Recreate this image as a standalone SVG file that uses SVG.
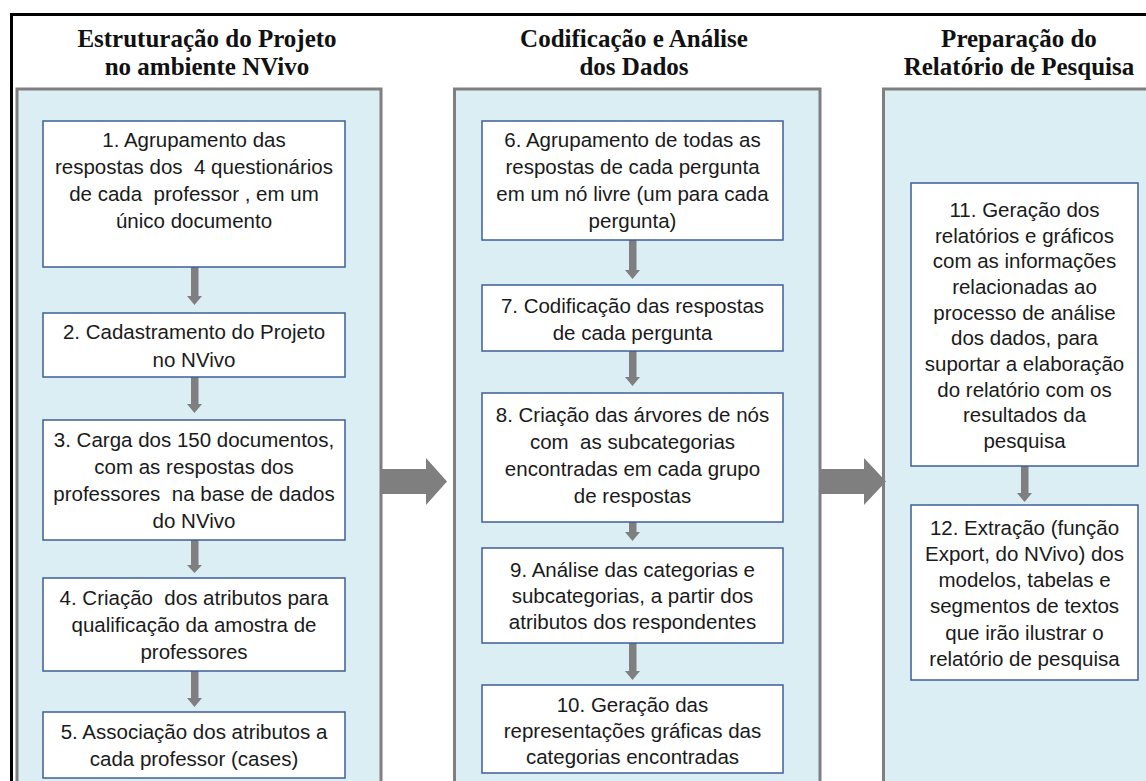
<svg xmlns="http://www.w3.org/2000/svg" width="1146" height="781" viewBox="0 0 1146 781">
<style>
.frame{fill:none;stroke:#000;stroke-width:3}
.panel{fill:#DBEEF4;stroke:#7F7F7F;stroke-width:3}
.box{fill:#fff;stroke:#3E5F97;stroke-width:1.5}
.title{font-family:"Liberation Serif","Times New Roman",serif;font-weight:bold;font-size:25px;fill:#111;text-anchor:middle}
.t{font-family:"Liberation Sans",Arial,sans-serif;font-size:20.5px;fill:#1a1a1a;text-anchor:middle;white-space:pre}
.arr{fill:#7F7F7F}
</style>
<rect width="1146" height="781" fill="#fff"/>
<rect class="frame" x="11.5" y="14.5" width="1160" height="800"/>
<g id="panel-1">
<rect class="panel" x="17" y="89" width="364" height="720"/>
<text class="title" x="207" y="47">Estruturação do Projeto</text>
<text class="title" x="207" y="75">no ambiente NVivo</text>
</g>
<g id="panel-2">
<rect class="panel" x="454.5" y="89" width="365.5" height="720"/>
<text class="title" x="634" y="47">Codificação e Análise</text>
<text class="title" x="634" y="75">dos Dados</text>
</g>
<g id="panel-3">
<rect class="panel" x="883.5" y="89" width="300" height="720"/>
<text class="title" x="1019" y="47">Preparação do</text>
<text class="title" x="1019" y="75">Relatório de Pesquisa</text>
</g>
<g id="connectors">
<path class="arr" d="M381 469H426V458L447 481.5L426 505V494H381Z"/>
<path class="arr" d="M821 469H864V458L886 481.5L864 505V494H821Z"/>
<path class="arr" d="M191 267H198.5V296H202L194.5 305L187 296H191Z"/>
<path class="arr" d="M191 377H198.5V404H202L194.5 413L187 404H191Z"/>
<path class="arr" d="M191 540H198.5V565H202L194.5 573L187 565H191Z"/>
<path class="arr" d="M191 671H198.5V698H202L194.5 707L187 698H191Z"/>
<path class="arr" d="M629 240H636.5V270H640L632.5 279L625 270H629Z"/>
<path class="arr" d="M629 351H636.5V377H640L632.5 386L625 377H629Z"/>
<path class="arr" d="M629 522H636.5V532H640L632.5 541L625 532H629Z"/>
<path class="arr" d="M629 643H636.5V671H640L632.5 680L625 671H629Z"/>
<path class="arr" d="M1021 466H1028.5V493H1032L1024.5 502L1017 493H1021Z"/>
</g>
<g id="node-1">
<rect class="box" x="43" y="121" width="302" height="146"/>
<text class="t" x="194" y="147">1. Agrupamento das</text>
<text class="t" x="194" y="174">respostas dos  4 questionários</text>
<text class="t" x="194" y="201">de cada  professor , em um</text>
<text class="t" x="194" y="228">único documento</text>
</g>
<g id="node-2">
<rect class="box" x="43" y="313" width="302" height="64"/>
<text class="t" x="194" y="339">2. Cadastramento do Projeto</text>
<text class="t" x="194" y="367">no NVivo</text>
</g>
<g id="node-3">
<rect class="box" x="43" y="420" width="302" height="120"/>
<text class="t" x="194" y="447">3. Carga dos 150 documentos,</text>
<text class="t" x="194" y="474">com as respostas dos</text>
<text class="t" x="194" y="501">professores  na base de dados</text>
<text class="t" x="194" y="528">do NVivo</text>
</g>
<g id="node-4">
<rect class="box" x="43" y="578" width="302" height="93"/>
<text class="t" x="194" y="605">4. Criação  dos atributos para</text>
<text class="t" x="194" y="632">qualificação da amostra de</text>
<text class="t" x="194" y="659">professores</text>
</g>
<g id="node-5">
<rect class="box" x="43" y="712" width="302" height="66"/>
<text class="t" x="194" y="739">5. Associação dos atributos a</text>
<text class="t" x="194" y="766">cada professor (cases)</text>
</g>
<g id="node-6">
<rect class="box" x="482" y="121" width="301" height="119"/>
<text class="t" x="632.5" y="147">6. Agrupamento de todas as</text>
<text class="t" x="632.5" y="174">respostas de cada pergunta</text>
<text class="t" x="632.5" y="201">em um nó livre (um para cada</text>
<text class="t" x="632.5" y="228">pergunta)</text>
</g>
<g id="node-7">
<rect class="box" x="482" y="285" width="301" height="66"/>
<text class="t" x="632.5" y="313">7. Codificação das respostas</text>
<text class="t" x="632.5" y="340">de cada pergunta</text>
</g>
<g id="node-8">
<rect class="box" x="482" y="393" width="301" height="129"/>
<text class="t" x="632.5" y="422">8. Criação das árvores de nós</text>
<text class="t" x="632.5" y="449">com  as subcategorias</text>
<text class="t" x="632.5" y="476">encontradas em cada grupo</text>
<text class="t" x="632.5" y="503">de respostas</text>
</g>
<g id="node-9">
<rect class="box" x="482" y="548" width="301" height="95"/>
<text class="t" x="632.5" y="577">9. Análise das categorias e</text>
<text class="t" x="632.5" y="603">subcategorias, a partir dos</text>
<text class="t" x="632.5" y="629">atributos dos respondentes</text>
</g>
<g id="node-10">
<rect class="box" x="482" y="685" width="301" height="88"/>
<text class="t" x="632.5" y="712">10. Geração das</text>
<text class="t" x="632.5" y="738">representações gráficas das</text>
<text class="t" x="632.5" y="764">categorias encontradas</text>
</g>
<g id="node-11">
<rect class="box" x="911" y="183" width="227" height="283"/>
<text class="t" x="1024.5" y="217">11. Geração dos</text>
<text class="t" x="1024.5" y="243">relatórios e gráficos</text>
<text class="t" x="1024.5" y="268">com as informações</text>
<text class="t" x="1024.5" y="294">relacionadas ao</text>
<text class="t" x="1024.5" y="320">processo de análise</text>
<text class="t" x="1024.5" y="345">dos dados, para</text>
<text class="t" x="1024.5" y="371">suportar a elaboração</text>
<text class="t" x="1024.5" y="397">do relatório com os</text>
<text class="t" x="1024.5" y="422">resultados da</text>
<text class="t" x="1024.5" y="448">pesquisa</text>
</g>
<g id="node-12">
<rect class="box" x="911" y="505" width="227" height="175"/>
<text class="t" x="1024.5" y="535">12. Extração (função</text>
<text class="t" x="1024.5" y="561">Export, do NVivo) dos</text>
<text class="t" x="1024.5" y="587">modelos, tabelas e</text>
<text class="t" x="1024.5" y="613">segmentos de textos</text>
<text class="t" x="1024.5" y="640">que irão ilustrar o</text>
<text class="t" x="1024.5" y="666">relatório de pesquisa</text>
</g>
</svg>
